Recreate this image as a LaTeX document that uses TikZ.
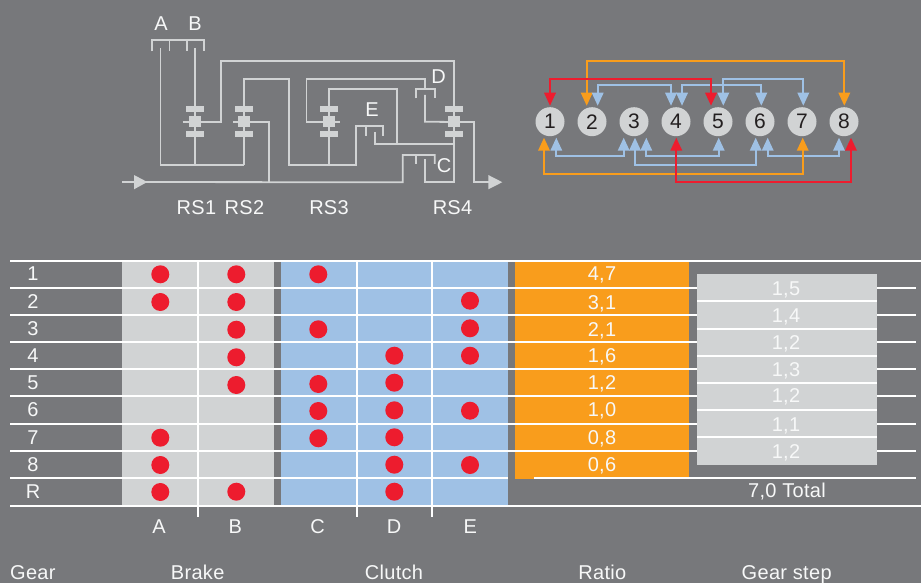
\documentclass[tikz,border=0pt]{standalone}
\usepackage{fontspec}
\setmainfont[LetterSpace=1.5]{Liberation Sans}
\usetikzlibrary{calc,arrows.meta}
\definecolor{bgc}{HTML}{77787B}
\definecolor{greyc}{HTML}{D1D3D4}
\definecolor{bluec}{HTML}{9FC1E5}
\definecolor{orangec}{HTML}{F99D1C}
\definecolor{redc}{HTML}{ED1C2E}
\definecolor{textc}{HTML}{F7F8F8}
\definecolor{darkc}{HTML}{231F20}
\tikzset{
  lbl/.style={inner sep=0pt,anchor=base,text=textc,font=\fontsize{20}{22}\selectfont},
  shaft/.style={draw=greyc,line width=1.8pt,line join=miter},
  barbox/.style={fill=greyc,draw=none,minimum width=18pt,minimum height=5.8pt,inner sep=0pt},
  planet/.style={fill=greyc,draw=none,minimum width=11.5pt,minimum height=11pt,inner sep=0pt},
  flowtip/.style={fill=greyc,draw=none},
  gearcirc/.style={circle,fill=greyc,minimum size=29pt,inner sep=0pt,text=darkc,font=\fontsize{21}{23}\selectfont},
  tips/.style={{Triangle[length=13pt,width=11.5pt]}-{Triangle[length=13pt,width=11.5pt]},line width=1.8pt},
  gearshift/.style={tips,draw=#1,color=#1},
  rowline/.style={draw=white,line width=1.7pt},
  reddot/.style={circle,fill=redc,minimum size=18pt,inner sep=0pt},
}
\begin{document}
\begin{tikzpicture}[x=1pt,y=-1pt]
\path[fill=bgc,use as bounding box] (0,0) rectangle (921,583);

% ---- schematic ----
\node[lbl] (lA) at (161,31) {A};
\node[lbl] (lB) at (195,31) {B};
\node[lbl] (lD) at (438.5,83.5) {D};
\node[lbl] (lE) at (372,117) {E};
\node[lbl] (lC) at (444,172) {C};
\node[lbl] (r1) at (196.5,214.5) {RS1};
\node[lbl] (r2) at (244.5,214.5) {RS2};
\node[lbl] (r3) at (329,214.5) {RS3};
\node[lbl] (r4) at (452.5,214.5) {RS4};

\node[planet] (rs1) at (195,122) {};
\node[planet] (rs2) at (244,122) {};
\node[planet] (rs3) at (329,122) {};
\node[planet] (rs4) at (454,122) {};

\coordinate (in) at (122,182);
\coordinate (out) at (490,182.3);
\coordinate (brakeA) at (160.5,48);
\coordinate (brakeB) at (195,48);
\coordinate (carrier) at (244,165);

% brakes bracket
\draw[shaft] (152,51.5) -- (152,40) -- (204,40) -- (204,51.5);
\draw[shaft] (169.5,40) -- (169.5,51.5) (187,40) -- (187,51.5);
\draw[shaft] (brakeA) |- (carrier);
\draw[shaft] (brakeB) -- (rs1.center) -- (195,165);
\draw[shaft] (182.7,122) -- (rs1.center);
\draw[shaft] (rs2.center) -- (carrier);
\draw[shaft] (233,122) -- (rs2.center);
% RS1 -> outer loop
\draw[shaft] (rs1.center) -- (221,122) -- (221,61) -- (454.3,61) -- (454.3,182.3) -- (425.3,182.3) -- (425.3,159);
% RS2 up & over
\draw[shaft] (rs2.center) -- (244,78.7) -- (288.7,78.7) -- (288.7,164.7) -- (355.7,164.7) -- (355.7,126) -- (383.3,126) -- (383.3,136);
\draw[shaft] (365.7,126) -- (365.7,136);
% RS2 to input
\draw[shaft] (rs2.center) -- (268.7,122) -- (268.7,182);
\draw[shaft] (in) -- (402.7,182.3) -- (402.7,155) -- (434.7,155) -- (434.7,164);
\draw[shaft] (416,155) -- (416,164);
% RS3
\draw[shaft] (rs3.center) -- (329,89) -- (397.3,89) -- (397.3,144.3);
\draw[shaft] (rs3.center) -- (329,164.7);
\draw[shaft] (rs3.center) -- (340,122);
\draw[shaft] (rs3.center) -- (306.5,122) -- (306.5,78.7) -- (425.3,78.7) -- (425.3,89.3);
\draw[shaft] (416,98.3) -- (416,89.3) -- (434.7,89.3) -- (434.7,98.3);
\draw[shaft] (425,95) -- (425,121.7) -- (rs4.center);
\draw[shaft] (374.7,132) -- (374.7,144.3) -- (454.3,144.3);
\draw[shaft] (rs4.center) -- (474.3,122) -- (474.3,182.3) -- (out);
% bars
\foreach \n/\x in {1/195,2/244,3/329,4/454}{
  \node[barbox] (bt\n) at (\x,109) {};
  \node[barbox] (bb\n) at (\x,134) {};
}
% flow arrows
\path[flowtip] (134,175) -- (147.3,182) -- (134,189.3) -- cycle;
\path[flowtip] (488.3,175) -- (502.3,182.2) -- (488.3,189.3) -- cycle;

% ---- shift graph ----
\foreach \n/\x in {1/550,2/592,3/634,4/676,5/718,6/760,7/802,8/844}{
  \node[gearcirc] (n\n) at (\x,121.7) {\n};
}
\draw[gearshift=orangec] ($(n2)+(-5.3,-16)$) -- ++(0,-44.7) -| ($(n8)+(0.3,-16)$);
\draw[gearshift=bluec] ($(n2)+(5.7,-16)$) -- ++(0,-20.7) -| ($(n4)+(-5,-16)$);
\draw[gearshift=bluec] ($(n4)+(6,-16)$) -- ++(0,-20.7) -| ($(n6)+(1.3,-16)$);
\draw[gearshift=bluec] ($(n5)+(5.3,-16)$) -- ++(0,-26.7) -| ($(n7)+(1.3,-16)$);
\draw[gearshift=redc] ($(n1)+(0,-16)$) -- ++(0,-26.7) -| ($(n5)+(-7,-16)$);
\draw[gearshift=bluec] ($(n1)+(6.3,16)$) -- ++(0,18.6) -| ($(n3)+(-10.3,16)$);
\draw[gearshift=bluec] ($(n3)+(1,16)$) -- ++(0,27.3) -| ($(n6)+(-4.3,16)$);
\draw[gearshift=bluec] ($(n3)+(12.3,16)$) -- ++(0,18.6) -| ($(n5)+(0.7,16)$);
\draw[gearshift=bluec] ($(n6)+(7.7,16)$) -- ++(0,18.6) -| ($(n8)+(-5,16)$);
\draw[gearshift=orangec] ($(n1)+(-6,16)$) -- ++(0,36) -| ($(n7)+(0.7,16)$);
\draw[gearshift=redc] ($(n4)+(0.3,16)$) -- ++(0,44.6) -| ($(n8)+(7,16)$);

% ---- table ----
\path[fill=greyc] (122,261) rectangle (274,505.5);
\path[fill=bluec] (281,261) rectangle (508,505.5);
\path[fill=orangec] (515,261) rectangle (689,479);
\draw[rowline] (10,260.7) -- (921,260.7);
\foreach \y in {287.7,315,342,369,396.3,423.7,451}{
  \draw[rowline] (10,\y) -- (916,\y);
}
\draw[rowline] (10,478.3) -- (508,478.3) (534,478.3) -- (916,478.3);
\draw[rowline] (10,505.7) -- (921,505.7);
\foreach \x in {197.7,356.7,432}{
  \draw[rowline] (\x,261) -- (\x,516.7);
}
\path[fill=greyc] (697,274) rectangle (877,465);
\foreach \y in {301.3,328.7,355.7,383,410.3,437.3}{
  \draw[rowline] (697,\y) -- (877,\y);
}
% dots
\foreach \x/\y [count=\i] in {
 160.3/274.3,160.3/302,160.3/437.7,160.3/465,160.3/492,
 236.3/274.3,236.3/302,236.3/329.7,236.3/357.3,236.3/385,236.3/491.7,
 318.3/274.3,318.3/329.3,318.3/384,318.3/411,318.3/438.3,
 394.3/355.7,394.3/382.7,394.3/410.3,394.3/437.3,394.3/464.7,394.3/491.7,
 470/300.7,470/328.3,470/355.7,470/410.7,470/465}{
  \node[reddot] (d\i) at (\x,\y) {};
}
% gear labels
\foreach \t/\y [count=\i] in {1/280.7,2/308.3,3/335.7,4/362.3,5/389.3,6/416.7,7/444.3,8/471.7,R/498.3}{
  \node[lbl] (gl\i) at (33,\y) {\t};
}
% ratio
\node[lbl] (ra1) at (602,280.7) {4,7};
\node[lbl] (ra2) at (602,309) {3,1};
\node[lbl] (ra3) at (602,336) {2,1};
\node[lbl] (ra4) at (602,362.7) {1,6};
\node[lbl] (ra5) at (602,389.3) {1,2};
\node[lbl] (ra6) at (602,416.7) {1,0};
\node[lbl] (ra7) at (602,444.3) {0,8};
\node[lbl] (ra8) at (602,471.7) {0,6};
\node[lbl] (st1) at (786,295) {1,5};
\node[lbl] (st2) at (786,322) {1,4};
\node[lbl] (st3) at (786,349) {1,2};
\node[lbl] (st4) at (786,376) {1,3};
\node[lbl] (st5) at (786,402.7) {1,2};
\node[lbl] (st6) at (786,431) {1,1};
\node[lbl] (st7) at (786,458) {1,2};
\node[lbl] (tot) at (787,497.7) {7,0 Total};
% column letters
\node[lbl] (cA) at (159,533.8) {A};
\node[lbl] (cB) at (235.3,533.8) {B};
\node[lbl] (cC) at (317.7,533.8) {C};
\node[lbl] (cD) at (394,533.8) {D};
\node[lbl] (cE) at (470.3,533.8) {E};
% headers
\node[lbl,anchor=base west] (hG) at (10,579.3) {Gear};
\node[lbl] (hB) at (197.7,579.3) {Brake};
\node[lbl] (hC) at (394,579.3) {Clutch};
\node[lbl] (hR) at (602.3,579.3) {Ratio};
\node[lbl] (hS) at (786.7,579.3) {Gear step};
\end{tikzpicture}
\end{document}
